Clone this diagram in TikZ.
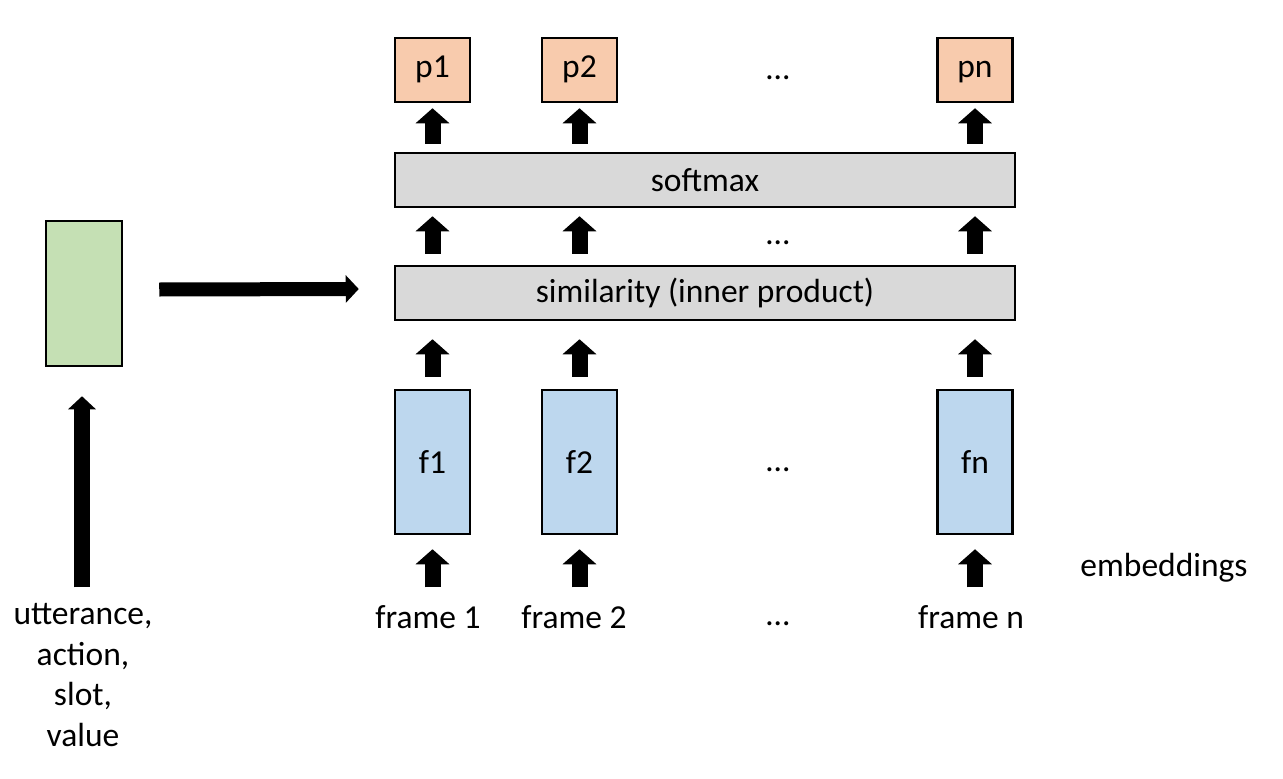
\documentclass[tikz,border=0pt]{standalone}
\usepackage{fontspec}
\setmainfont{Carlito}
\usetikzlibrary{arrows.meta,calc}
\newcommand\fsz{\fontsize{33.5}{40.5}\selectfont}
\definecolor{porange}{HTML}{F8CBAD}
\definecolor{fblue}{HTML}{BDD7EE}
\definecolor{ggreen}{HTML}{C5E0B4}
\definecolor{lgray}{HTML}{D9D9D9}
\begin{document}
\begin{tikzpicture}[x=1pt,y=-1pt,
  box/.style={draw=black,line width=2.5pt,inner sep=0pt,font=\fsz},
  pbox/.style={box,fill=porange,minimum width=75pt,minimum height=64pt,text height=21pt,text depth=7pt},
  fbox/.style={box,fill=fblue,minimum width=75pt,minimum height=144pt},
  gbox/.style={box,fill=ggreen,minimum width=76pt,minimum height=145pt},
  wbox/.style={box,fill=lgray,minimum width=620pt,minimum height=54pt},
  lbl/.style={font=\fsz,inner sep=0pt},
  blk/.style={line width=16pt,-{Triangle[width=33pt,length=15pt]}},
  bigblk/.style={line width=16pt,-{Triangle[width=27pt,length=13pt]}},
  hblk/.style={line width=14pt,-{Triangle[width=27pt,length=13pt]}}
]
\useasboundingbox (0,0) rectangle (1283,779);

% top probability boxes
\node[pbox] (p1) at (432.5,70) {p1};
\node[pbox] (p2) at (579.5,70) {p2};
\node[pbox] (pn) at (975,70) {pn};
\node[lbl] (d1) at (778,78) {…};

% softmax and similarity
\node[wbox] (soft) at (705,180) {softmax};
\node[wbox] (sim) at (705,293) {similarity (inner product)};
\node[lbl] (d2) at (778,243) {…};

% frame embedding boxes
\node[fbox] (f1) at (432.5,462) {f1};
\node[fbox] (f2) at (579.5,462) {f2};
\node[fbox] (fn) at (975,462) {fn};
\node[lbl] (d3) at (778,470) {…};

% frame labels
\node[lbl] (fr1) at (428,617) {frame 1};
\node[lbl] (fr2) at (574,617) {frame 2};
\node[lbl] (frn) at (971,617) {frame n};
\node[lbl] (d4) at (778,624) {…};
\node[lbl] (emb) at (1164,568) {embeddings};

% left side
\node[gbox] (g) at (84,293.5) {};
\node[lbl,align=center] (inp) at (83,675) {utterance,\\action,\\slot,\\value};

% arrows softmax -> p
\foreach \n in {p1,p2,pn}{
  \draw[blk] ($(soft.north -| \n.south)+(0,-8)$) -- ($(\n.south)+(0,5)$);
}
% arrows similarity -> softmax
\foreach \n in {p1,p2,pn}{
  \draw[blk] ($(sim.north -| \n.south)+(0,-11)$) -- ($(soft.south -| \n.south)+(0,8)$);
}
% arrows f -> similarity
\foreach \n in {f1,f2,fn}{
  \draw[blk] ($(\n.north)+(0,-12)$) -- ($(sim.south -| \n.north)+(0,18)$);
}
% arrows frames -> f
\foreach \n in {f1,f2,fn}{
  \draw[blk] ($(\n.south)+(0,52)$) -- ($(\n.south)+(0,14)$);
}

% left arrows
\draw[bigblk] ($(g.south)+(-2,220)$) -- ($(g.south)+(-2,29)$);
\draw[hblk] ($(g.east)+(36,-4)$) -- ($(sim.west)+(-35,-4)$);
\end{tikzpicture}
\end{document}
